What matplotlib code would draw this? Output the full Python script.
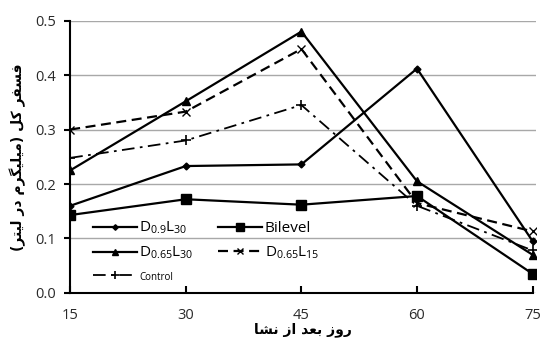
import matplotlib
matplotlib.use('Agg')
import matplotlib.pyplot as plt

days = [15, 30, 45, 60, 75]
d09_l30 = [0.160, 0.233, 0.236, 0.412, 0.095]
bilevel = [0.143, 0.172, 0.162, 0.178, 0.035]
d065_l30 = [0.225, 0.352, 0.480, 0.205, 0.070]
d065_l15 = [0.300, 0.333, 0.448, 0.165, 0.113]
control = [0.248, 0.280, 0.345, 0.160, 0.078]

y_ticks = [0.0, 0.1, 0.2, 0.3, 0.4, 0.5]
x_label = 'روز بعد از نشا'
y_label = 'فسفر کل (میلیگرم در لیتر)'

# contextual forms: isolated, final, initial, medial
FORMS = {
    'ا': ('\uFE8D', '\uFE8E', None, None),
    'ب': ('\uFE8F', '\uFE90', '\uFE91', '\uFE92'),
    'ت': ('\uFE95', '\uFE96', '\uFE97', '\uFE98'),
    'د': ('\uFEA9', '\uFEAA', None, None),
    'ر': ('\uFEAD', '\uFEAE', None, None),
    'ز': ('\uFEAF', '\uFEB0', None, None),
    'س': ('\uFEB1', '\uFEB2', '\uFEB3', '\uFEB4'),
    'ش': ('\uFEB5', '\uFEB6', '\uFEB7', '\uFEB8'),
    'ع': ('\uFEC9', '\uFECA', '\uFECB', '\uFECC'),
    'ف': ('\uFED1', '\uFED2', '\uFED3', '\uFED4'),
    'ل': ('\uFEDD', '\uFEDE', '\uFEDF', '\uFEE0'),
    'م': ('\uFEE1', '\uFEE2', '\uFEE3', '\uFEE4'),
    'ن': ('\uFEE5', '\uFEE6', '\uFEE7', '\uFEE8'),
    'و': ('\uFEED', '\uFEEE', None, None),
    'ک': ('\uFB8E', '\uFB8F', '\uFB90', '\uFB91'),
    'گ': ('\uFB92', '\uFB93', '\uFB94', '\uFB95'),
    'ی': ('\uFBFC', '\uFBFD', '\uFBFE', '\uFBFF'),
}
MIRROR = {'(': ')', ')': '('}


def shape(text):
    """Persian text -> presentation forms in visual (left to right) order"""
    out = []
    for i, ch in enumerate(text):
        if ch not in FORMS:
            out.append(MIRROR.get(ch, ch))
            continue
        prev = text[i - 1] if i > 0 else ''
        nxt = text[i + 1] if i + 1 < len(text) else ''
        join_prev = prev in FORMS and FORMS[prev][2] is not None
        join_next = nxt in FORMS and FORMS[ch][2] is not None
        iso, fin, ini, med = FORMS[ch]
        if join_prev and join_next:
            out.append(med)
        elif join_prev:
            out.append(fin)
        elif join_next:
            out.append(ini)
        else:
            out.append(iso)
    return ''.join(reversed(out))


plt.rcParams['font.family'] = ['Open Sans', 'DejaVu Sans']
plt.rcParams['mathtext.fontset'] = 'custom'
plt.rcParams['mathtext.rm'] = 'Open Sans'
plt.rcParams['mathtext.it'] = 'Open Sans'

fig = plt.figure(figsize=(5.4, 3.39), dpi=100)
ax = fig.add_axes([0.13, 0.136, 0.862, 0.803])

ax.plot(days, d09_l30, '-', color='black', lw=1.6, marker='D', ms=3.5, label=r'D$_{0.9}$L$_{30}$')
ax.plot(days, d065_l30, '-', color='black', lw=1.6, marker='^', ms=6, label=r'D$_{0.65}$L$_{30}$')
ax.plot(days, control, color='black', lw=1.3, ls=(0, (7, 3, 1.5, 3)), marker='+', ms=7, mew=1.2, label='Control')
ax.plot(days, bilevel, '-', color='black', lw=1.6, marker='s', ms=7, label='Bilevel')
ax.plot(days, d065_l15, color='black', lw=1.6, ls=(0, (4.5, 2.5)), marker='x', ms=6, mew=1, label=r'D$_{0.65}$L$_{15}$')

ax.set_xlim(15, 75.4)
ax.set_ylim(0, 0.5)
ax.set_xticks(days)
ax.set_yticks(y_ticks)
ax.set_yticklabels(['%.1f' % t for t in y_ticks])
ax.yaxis.grid(True, color='#a8a8a8', lw=1)
ax.set_axisbelow(True)

for side in ['top', 'right']:
    ax.spines[side].set_visible(False)
for side in ['left', 'bottom']:
    ax.spines[side].set_linewidth(1.5)
ax.spines['bottom'].set_bounds(15, 75)
ax.tick_params(axis='y', direction='out', length=4, width=1.5, labelsize=10.5, labelcolor='#2a2a2a', pad=6)
ax.tick_params(axis='x', direction='in', length=5, width=1.5, labelsize=10.5, labelcolor='#2a2a2a', pad=11)

ax.set_xlabel(shape(x_label), family='DejaVu Sans', fontweight='bold', fontsize=10, labelpad=-1)
ax.set_ylabel(shape(y_label), family='DejaVu Sans', fontweight='bold', fontsize=10, labelpad=7)

leg = ax.legend(loc='upper left', bbox_to_anchor=(0.035, 0.29), ncol=2, frameon=False,
                fontsize=11, handlelength=2.9, handletextpad=0.15, columnspacing=1.6,
                labelspacing=0.55, borderaxespad=0, markerscale=0.8)
leg.get_texts()[2].set_fontsize(7)

fig.savefig('out.png', dpi=100)
